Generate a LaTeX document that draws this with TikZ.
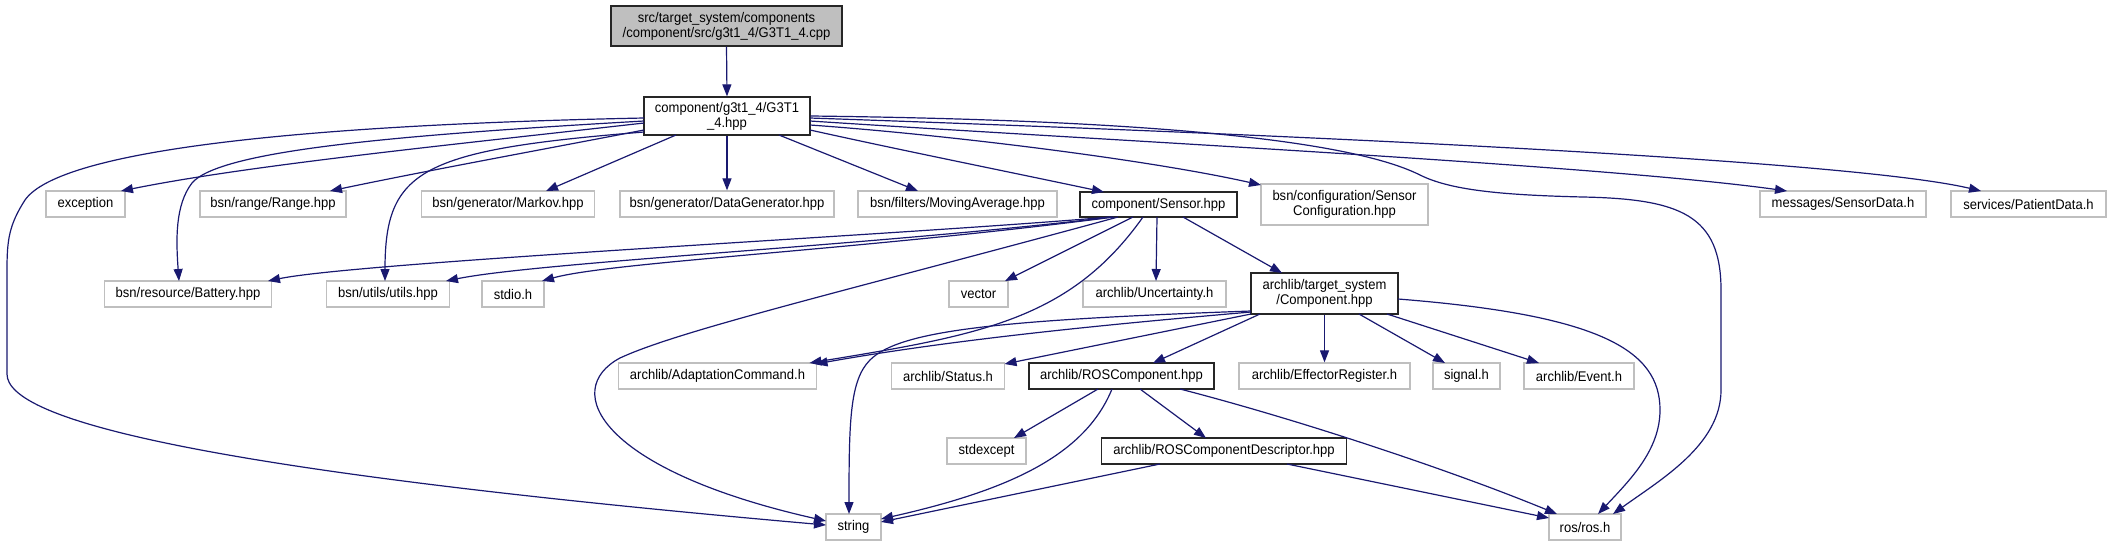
\documentclass[tikz,border=0pt]{standalone}
\usepackage{fontspec}
\setmainfont{Liberation Sans}[FakeStretch=0.93]
\usetikzlibrary{arrows.meta}
\definecolor{edgeblue}{HTML}{191970}
\definecolor{greyseventyfive}{HTML}{BFBFBF}
\begin{document}
\begin{tikzpicture}[x=1pt,y=-1pt,
  box/.style={draw=greyseventyfive, line width=1.3pt, fill=white, rectangle, inner sep=0pt,
    minimum height=26pt, font=\fontsize{14}{15}\selectfont, align=center},
  docbox/.style={box, draw=black!85},
  dep/.style={draw=edgeblue, line width=1.2pt, -{Triangle[length=12pt,width=9pt]}},
]
\useasboundingbox (0,0) rectangle (2111,544);

% nodes
\node[docbox, fill=greyseventyfive, minimum width=231pt, minimum height=40pt] (top) at (726.5,26) {src/target\_system/components\\/component/src/g3t1\_4/G3T1\_4.cpp};
\node[docbox, minimum width=166pt, minimum height=38pt] (hpp) at (727,116) {component/g3t1\_4/G3T1\\\_4.hpp};

\node[box, minimum width=79pt] (exc) at (85.5,204) {exception};
\node[box, minimum width=146pt] (range) at (273,204) {bsn/range/Range.hpp};
\node[box, minimum width=173pt] (markov) at (508,204) {bsn/generator/Markov.hpp};
\node[box, minimum width=214pt] (datagen) at (727,204) {bsn/generator/DataGenerator.hpp};
\node[box, minimum width=199pt] (movavg) at (957.5,204) {bsn/filters/MovingAverage.hpp};
\node[docbox, minimum width=157pt, minimum height=25pt] (sensor) at (1158.5,204.5) {component/Sensor.hpp};
\node[box, minimum width=167pt, minimum height=41pt] (sconf) at (1344.5,204.5) {bsn/configuration/Sensor\\Configuration.hpp};
\node[box, minimum width=166pt] (sdata) at (1843,204) {messages/SensorData.h};
\node[box, minimum width=155pt] (patient) at (2028.5,204) {services/PatientData.h};

\node[box, minimum width=167pt] (battery) at (188,294) {bsn/resource/Battery.hpp};
\node[box, minimum width=123pt] (utils) at (388,294) {bsn/utils/utils.hpp};
\node[box, minimum width=62pt] (stdio) at (513,294) {stdio.h};
\node[box, minimum width=59pt] (vector) at (978.5,294) {vector};
\node[box, minimum width=143pt] (uncert) at (1154.5,294) {archlib/Uncertainty.h};
\node[docbox, minimum width=147pt, minimum height=41pt] (comp) at (1324.5,293.5) {archlib/target\_system\\/Component.hpp};

\node[box, minimum width=198pt] (adapt) at (717.5,376) {archlib/AdaptationCommand.h};
\node[box, minimum width=113pt] (status) at (948,376) {archlib/Status.h};
\node[docbox, minimum width=185pt] (roscomp) at (1121.5,376) {archlib/ROSComponent.hpp};
\node[box, minimum width=171pt] (effector) at (1324.5,376) {archlib/EffectorRegister.h};
\node[box, minimum width=67pt] (signal) at (1466.5,376) {signal.h};
\node[box, minimum width=110pt] (event) at (1579,376) {archlib/Event.h};

\node[box, minimum width=79pt] (stdexc) at (986.5,451) {stdexcept};
\node[docbox, minimum width=245pt] (rosdesc) at (1224,451) {archlib/ROSComponentDescriptor.hpp};

\node[box, minimum width=55pt] (string) at (853.5,527) {string};
\node[box, minimum width=72pt] (ros) at (1585,527) {ros/ros.h};

% edges
\draw[dep] (top.south) -- (hpp.north);

\draw[dep] ([shift={(-83,7)}]hpp.center) .. controls (450,145) and (250,165) .. ([shift={(35.5,-13)}]exc.center);
\draw[dep] ([shift={(-83,14)}]hpp.center) .. controls (540,150) and (420,172) .. ([shift={(57,-13)}]range.center);
\draw[dep] ([shift={(-51,19)}]hpp.center) -- ([shift={(38,-13)}]markov.center);
\draw[dep] (hpp.south) -- (datagen.north);
\draw[dep] ([shift={(52,19)}]hpp.center) -- ([shift={(-39.5,-13)}]movavg.center);
\draw[dep] ([shift={(83,14)}]hpp.center) .. controls (900,150) and (1000,170) .. ([shift={(-54.5,-12.5)}]sensor.center);
\draw[dep] ([shift={(83,9)}]hpp.center) .. controls (950,135) and (1150,160) .. ([shift={(-83.5,-19.5)}]sconf.center);
\draw[dep] ([shift={(83,5)}]hpp.center) .. controls (1100,140) and (1600,165) .. ([shift={(-56,-13)}]sdata.center);
\draw[dep] ([shift={(83,2)}]hpp.center) .. controls (1300,135) and (1850,160) .. ([shift={(-47.5,-13)}]patient.center);
\draw[dep] (hpp.east) .. controls (1150,120) and (1350,140) .. (1420,175)
   .. controls (1450,190) and (1500,195) .. (1583,197)
   .. controls (1680,199) and (1721,215) .. (1721,290) -- (1721,390)
   .. controls (1721,445) and (1660,480) .. ([shift={(28,-13)}]ros.center);
\draw[dep] ([shift={(-83,5)}]hpp.center) .. controls (400,135) and (220,150) .. (192,183)
   .. controls (175,205) and (176,240) .. ([shift={(-9,-13)}]battery.center);
\draw[dep] ([shift={(-83,16)}]hpp.center) .. controls (420,150) and (385,170) .. ([shift={(-3,-13)}]utils.center);
\draw[dep] ([shift={(-83,2)}]hpp.center) .. controls (300,125) and (60,150) .. (25,200)
   .. controls (9,225) and (7,240) .. (7,270) -- (7,374)
   .. controls (7,420) and (200,470) .. ([shift={(-27.5,-2)}]string.center);

\draw[dep] ([shift={(-48.5,12.5)}]sensor.center) .. controls (900,235) and (360,262) .. ([shift={(80,-13)}]battery.center);
\draw[dep] ([shift={(-46.5,12.5)}]sensor.center) .. controls (880,245) and (540,262) .. ([shift={(58,-13)}]utils.center);
\draw[dep] ([shift={(-44.5,12.5)}]sensor.center) .. controls (860,250) and (610,262) .. ([shift={(29,-13)}]stdio.center);
\draw[dep] ([shift={(-40.5,12.5)}]sensor.center) .. controls (850,290) and (680,330) .. (620,358)
   .. controls (560,390) and (600,470) .. ([shift={(-27.5,-6)}]string.center);
\draw[dep] ([shift={(-25.5,12.5)}]sensor.center) -- ([shift={(26.5,-13)}]vector.center);
\draw[dep] ([shift={(-15.5,12.5)}]sensor.center) .. controls (1070,320) and (980,335) .. ([shift={(92,-13)}]adapt.center);
\draw[dep] ([shift={(-1.5,12.5)}]sensor.center) -- ([shift={(1.5,-13)}]uncert.center);
\draw[dep] ([shift={(24.5,12.5)}]sensor.center) -- ([shift={(-42.5,-20.5)}]comp.center);

\draw[dep] ([shift={(-73.5,18.5)}]comp.center) .. controls (1100,325) and (950,340) .. ([shift={(98,-12)}]adapt.center);
\draw[dep] ([shift={(-73.5,20.5)}]comp.center) -- ([shift={(56.5,-12)}]status.center);
\draw[dep] ([shift={(-64.5,20.5)}]comp.center) -- ([shift={(31.5,-13)}]roscomp.center);
\draw[dep] (comp.south) -- (effector.north);
\draw[dep] ([shift={(34.5,20.5)}]comp.center) -- ([shift={(-21.5,-13)}]signal.center);
\draw[dep] ([shift={(62.5,20.5)}]comp.center) -- ([shift={(-40,-13)}]event.center);
\draw[dep] ([shift={(-73.5,17.5)}]comp.center) .. controls (1000,320) and (900,330) .. (870,360)
   .. controls (850,380) and (849,420) .. ([shift={(-4.5,-13)}]string.center);
\draw[dep] ([shift={(73.5,5.5)}]comp.center) .. controls (1600,315) and (1660,350) .. (1660,410)
   .. controls (1660,450) and (1630,480) .. ([shift={(13,-13)}]ros.center);

\draw[dep] ([shift={(-23.5,13)}]roscomp.center) -- ([shift={(27.5,-13)}]stdexc.center);
\draw[dep] ([shift={(18.5,13)}]roscomp.center) -- ([shift={(-18,-13)}]rosdesc.center);
\draw[dep] ([shift={(-9.5,13)}]roscomp.center) .. controls (1085,455) and (1010,490) .. ([shift={(27.5,-8)}]string.center);
\draw[dep] ([shift={(58.5,13)}]roscomp.center) .. controls (1300,420) and (1450,470) .. ([shift={(-28,-13)}]ros.center);

\draw[dep] ([shift={(-64,13)}]rosdesc.center) -- ([shift={(27.5,-5)}]string.center);
\draw[dep] ([shift={(63,13)}]rosdesc.center) -- ([shift={(-36,-9)}]ros.center);
\end{tikzpicture}
\end{document}
